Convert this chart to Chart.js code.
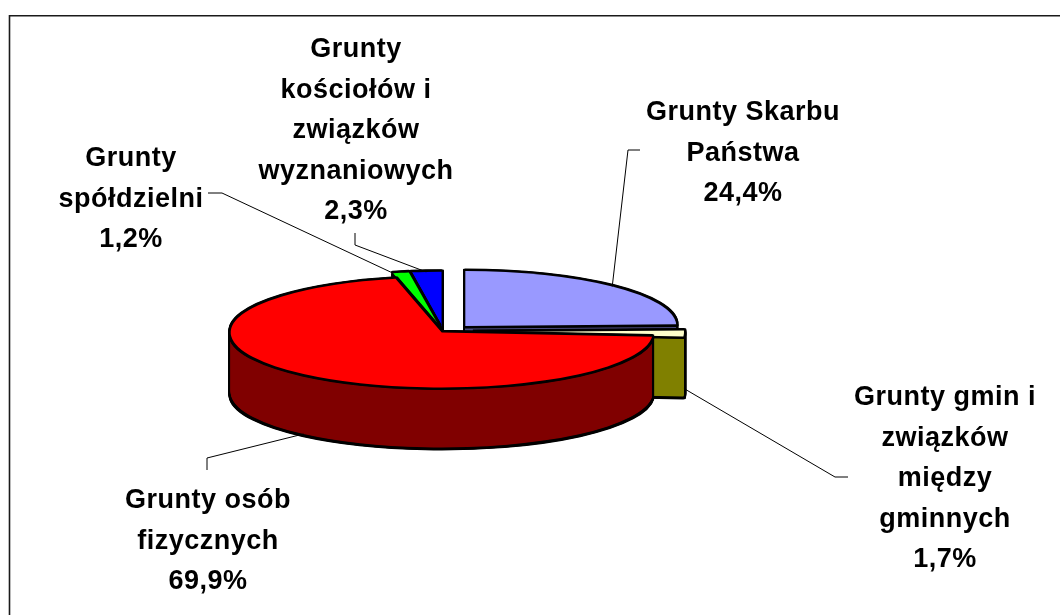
<!DOCTYPE html>
<html>
<head>
<meta charset="utf-8">
<script src="https://cdn.jsdelivr.net/npm/chart.js@4/dist/chart.umd.min.js"></script>
<style>
  html, body { margin: 0; padding: 0; background: #ffffff; }
  #wrap { width: 1060px; height: 615px; position: relative; }
</style>
</head>
<body>
<div id="wrap"><canvas id="c"></canvas></div>
<script>
// ---- data ----
const categories = [
  'Grunty Skarbu Państwa',
  'Grunty gmin i związków między gminnych',
  'Grunty osób fizycznych',
  'Grunty spółdzielni',
  'Grunty kościołów i związków wyznaniowych'
];
const shares = [24.4, 1.7, 69.9, 1.2, 2.3];
const labelLines = [
  ['Grunty Skarbu', 'Państwa'],
  ['Grunty gmin i', 'związków', 'między', 'gminnych'],
  ['Grunty osób', 'fizycznych'],
  ['Grunty', 'spółdzielni'],
  ['Grunty', 'kościołów i', 'związków', 'wyznaniowych']
];
const valueLabels = shares.map(v => v.toFixed(1).replace('.', ',') + '%');

// ---- styles ----
const topColors  = ['#9999FF', '#FFFFCC', '#FF0000', '#00FF00', '#0000FF'];
const sideColors = ['#4D4D80', '#808000', '#800000', '#008000', '#000080'];

// 3D pie plugin: flattens the pie, extrudes each slice and explodes it
const pie3d = {
  id: 'pie3d',
  beforeDatasetsDraw(chart, args, o) {
    const ctx = chart.ctx;
    const arcs = chart.getDatasetMeta(0).data;
    if (!arcs.length) return false;
    const cx = arcs[0].x, cy = arcs[0].y, k = o.tilt;
    const paint = (i, dyScreen, fill, lw) => {
      const arc = arcs[i];
      const e = o.explode[i];
      const mid = (arc.startAngle + arc.endAngle) / 2;
      const saved = arc.options;
      arc.options = Object.assign({}, saved, {
        backgroundColor: fill, borderColor: fill, borderWidth: lw, offset: 0, spacing: 0
      });
      ctx.save();
      ctx.translate(Math.cos(mid) * e, Math.sin(mid) * e + dyScreen / k);
      arc.draw(ctx);
      ctx.restore();
      arc.options = saved;
    };
    ctx.save();
    ctx.translate(cx, cy);
    ctx.scale(1, k);
    ctx.translate(-cx, -cy);
    for (const i of o.order) {
      for (let d = o.depth + 2.5; d >= 1; d -= 0.5) paint(i, d, o.edge, 4.5);
      for (let d = o.depth; d >= 1; d -= 0.5) paint(i, d, sideColors[i], 0);
      for (const d of [-2, -1.5, -1, -0.5, 0, 0.5, 1, 1.5, 2]) paint(i, d, o.edge, 4.5);
      paint(i, 0, topColors[i], 0);
    }
    ctx.restore();
    return false;
  }
};

// callout labels, leader lines and chart frame
const callouts = {
  id: 'callouts',
  afterDraw(chart, args, o) {
    const ctx = chart.ctx;
    const arcs = chart.getDatasetMeta(0).data;
    const p3 = chart.options.plugins.pie3d;
    const k = p3.tilt;
    ctx.save();
    // frame
    ctx.strokeStyle = '#1a1a1a';
    ctx.lineWidth = 1.6;
    ctx.beginPath();
    ctx.moveTo(9.5, 2000);
    ctx.lineTo(9.5, 15.8);
    ctx.lineTo(2000, 15.8);
    ctx.stroke();

    // leader lines
    ctx.strokeStyle = '#000000';
    ctx.lineWidth = 1;
    o.items.forEach((it, i) => {
      const arc = arcs[i];
      const cx = arc.x, cy = arc.y;
      const mid = (arc.startAngle + arc.endAngle) / 2;
      const th = it.at === 'start' ? arc.startAngle : it.at === 'end' ? arc.endAngle : mid;
      const e = p3.explode[i];
      const px = cx + Math.cos(mid) * e + Math.cos(th) * arc.outerRadius;
      const pyIn = cy + Math.sin(mid) * e + Math.sin(th) * arc.outerRadius;
      const py = cy + (pyIn - cy) * k + it.depth;
      ctx.beginPath();
      ctx.moveTo(px, py);
      it.path.forEach(p => ctx.lineTo(p[0], p[1]));
      ctx.stroke();
    });

    // labels
    ctx.fillStyle = '#000000';
    ctx.font = 'bold 27px "Liberation Sans", Arial, sans-serif';
    ctx.letterSpacing = '0.5px';
    ctx.textAlign = 'center';
    ctx.textBaseline = 'alphabetic';
    o.items.forEach((it, i) => {
      const lines = labelLines[i].concat([valueLabels[i]]);
      lines.forEach((t, j) => ctx.fillText(t, it.x, it.y + j * o.lineHeight));
    });
    ctx.restore();
  }
};

new Chart(document.getElementById('c'), {
  type: 'pie',
  data: {
    labels: categories,
    datasets: [{
      data: shares,
      backgroundColor: topColors,
      borderWidth: 0,
      radius: 211,
      clip: false
    }]
  },
  options: {
    responsive: true,
    maintainAspectRatio: false,
    animation: false,
    events: [],
    layout: { padding: { left: 0, right: 174, top: 49, bottom: 0 } },
    plugins: {
      legend: { display: false },
      tooltip: { enabled: false },
      pie3d: {
        tilt: 0.2607,
        depth: 60,
        edge: '#000000',
        explode: [32, 30, 2, 20, 20],
        order: [4, 3, 0, 1, 2]
      },
      callouts: {
        lineHeight: 40.5,
        items: [
          { x: 743, y: 120, at: 'mid', depth: 0,  path: [[628, 150], [640, 150]] },
          { x: 945, y: 405, at: 'mid', depth: 55, path: [[835, 477], [848, 477]] },
          { x: 208, y: 508, at: 'mid', depth: 60, path: [[207, 458], [207, 470]] },
          { x: 131, y: 166, at: 'start', depth: 0, path: [[222, 193], [208, 193]] },
          { x: 356, y: 57,  at: 'mid', depth: 0,  path: [[355, 245], [355, 233]] }
        ]
      }
    }
  },
  plugins: [pie3d, callouts]
});
</script>
</body>
</html>
